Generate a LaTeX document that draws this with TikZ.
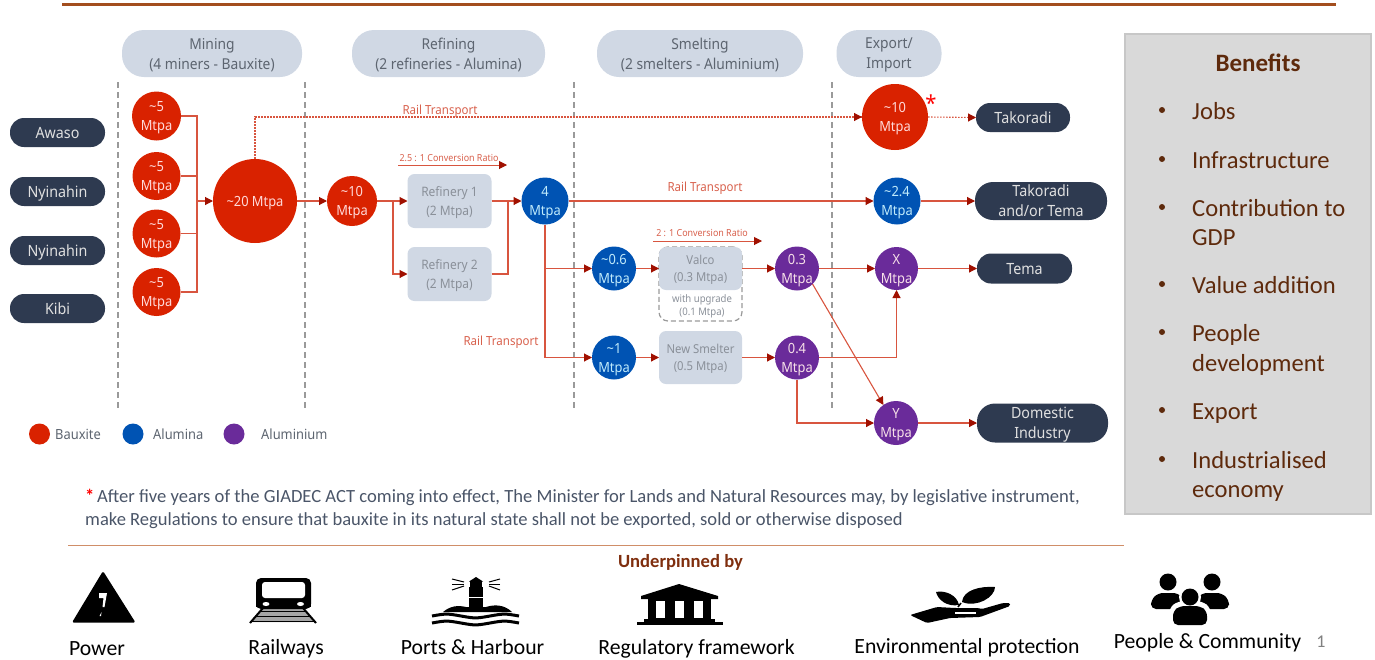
\documentclass[tikz,border=0pt]{standalone}
\usepackage{fontspec}
\setmainfont{Noto Sans}[FakeStretch=0.92]
\newfontfamily\calb{Carlito}
\usetikzlibrary{arrows.meta,calc}
\definecolor{linec}{HTML}{D8553F}
\definecolor{tipc}{HTML}{A01000}
\definecolor{redc}{HTML}{D92200}
\definecolor{bluec}{HTML}{0053B3}
\definecolor{purc}{HTML}{6A2B9A}
\definecolor{pillc}{HTML}{2E3A50}
\definecolor{headc}{HTML}{D0D8E4}
\definecolor{headt}{HTML}{5D6570}
\definecolor{boxt}{HTML}{8A9099}
\definecolor{railt}{HTML}{D8604C}
\definecolor{brownc}{HTML}{5E2A0C}
\definecolor{noteC}{HTML}{4A5568}
\definecolor{dashc}{HTML}{9A9A9A}
\definecolor{topr}{HTML}{A34E1E}
\definecolor{lowr}{HTML}{D08E68}
\definecolor{undc}{HTML}{7F2E0E}
\newcommand{\fs}[2]{\fontsize{#1}{#2}\selectfont}
\newcommand{\tl}{\textasciitilde}
\tikzset{
 circ/.style={circle,inner sep=0pt,outer sep=0pt,align=center,text depth=0pt,font=\fs{14}{19}},
 rc/.style={circ,fill=redc,text=red!15!white},
 bc/.style={circ,fill=bluec,text=cyan!25!white},
 pc/.style={circ,fill=purc,text=purple!12!white},
 pill/.style={fill=pillc,text=white!88!black,rounded corners=14pt,align=center,inner sep=0pt,outer sep=0pt,text depth=0pt,font=\fs{15.5}{20}},
 headb/.style={fill=headc,text=headt,rounded corners=22pt,align=center,inner sep=0pt,outer sep=0pt,text depth=0pt,font=\fs{15}{20}},
 plant/.style={fill=headc,text=boxt,rounded corners=7pt,align=center,inner sep=0pt,outer sep=0pt,minimum width=84pt,text depth=0pt,font=\fs{13}{19}},
 ln/.style={draw=linec,line width=1.1pt},
 arr/.style={ln,-{Triangle[length=8pt,width=8pt,color=tipc,fill=tipc]}},
 dot/.style={ln,dash pattern=on 1.6pt off 1.4pt},
 sep/.style={draw=dashc,line width=1.2pt,dash pattern=on 6pt off 4pt},
 lab/.style={text=railt,inner sep=0pt,font=\fs{12.5}{14}},
 ben/.style={anchor=base west,inner sep=0pt,text=brownc,font=\calb\fs{24.6}{25}},
 bul/.style={circle,fill=brownc,minimum size=6pt,inner sep=0pt},
 lbl/.style={anchor=base,text=black,inner sep=0pt,font=\calb\fs{21.7}{24}},
 leg/.style={text=headt,inner sep=0pt,font=\fs{14}{15}},
}
\begin{document}
\begin{tikzpicture}[x=1pt,y=-1pt]
\useasboundingbox (0,0) rectangle (1375,659);
% rules
\coordinate (r1a) at (62,4); \coordinate (r1b) at (1336,4);
\draw[line width=3pt,draw=topr] (r1a) -- (r1b);
\coordinate (r2a) at (68,545.5); \coordinate (r2b) at (1124,545.5);
\draw[line width=1.6pt,draw=lowr] (r2a) -- (r2b);
% header
\node[headb,minimum width=180pt,minimum height=47pt] (hm) at (212,53.5) {Mining\\(4 miners - Bauxite)};
\node[headb,minimum width=193pt,minimum height=47pt] (hr) at (448.5,53.5) {Refining\\(2 refineries - Alumina)};
\node[headb,minimum width=206pt,minimum height=47pt] (hs) at (700,53.5) {Smelting\\(2 smelters - Aluminium)};
\node[headb,minimum width=105pt,minimum height=47pt] (he) at (889,53.5) {Export/\\Import};
% separators
\foreach \x/\n in {118/a,305/b,574/c,832/d}{
 \coordinate (s\n t) at (\x,82); \coordinate (s\n b) at (\x,410);
 \draw[sep] (s\n t) -- (s\n b);
}
% pills
\node[pill,minimum width=95pt,minimum height=29pt] (awaso) at (57.5,132.5) {Awaso};
\node[pill,minimum width=95pt,minimum height=29pt] (ny1) at (57.5,191.5) {Nyinahin};
\node[pill,minimum width=95pt,minimum height=29pt] (ny2) at (57.5,250.5) {Nyinahin};
\node[pill,minimum width=95pt,minimum height=29pt] (kibi) at (57.5,308.5) {Kibi};
% mining
\node[rc,minimum size=49pt] (m1) at (156.5,116) {\tl5\\Mtpa};
\node[rc,minimum size=48pt] (m2) at (156.5,176) {\tl5\\Mtpa};
\node[rc,minimum size=48pt] (m3) at (156.5,233.5) {\tl5\\Mtpa};
\node[rc,minimum size=48pt] (m4) at (156.5,292) {\tl5\\Mtpa};
\node[rc,minimum size=84pt] (big) at (255,201) {\tl20 Mtpa};
\coordinate (jm) at (197,201);
\draw[ln] (m1.east) -| (jm);
\draw[ln] (m4.east) -| (jm);
\draw[ln] (m2.east) -| (jm);
\draw[ln] (m3.east) -| (jm);
\draw[arr] (jm) -- (big.west);
% refining
\node[rc,minimum size=50pt] (t10) at (352,201) {\tl10\\Mtpa};
\draw[arr] (big.east) -- (t10.west);
\node[plant,minimum height=54pt] (r1) at (449.5,201) {Refinery 1\\(2 Mtpa)};
\node[plant,minimum height=54pt] (r2) at (449.5,274) {Refinery 2\\(2 Mtpa)};
\node[bc,minimum size=47pt] (al4) at (545,201) {4\\Mtpa};
\draw[arr] (t10.east) -- (r1.west);
\coordinate (jr) at (393,201);
\draw[arr] (jr) |- (r2.west);
\coordinate (jq) at (508,201);
\draw[ln] (r1.east) -- (jq);
\draw[ln] (r2.east) -| (jq);
\draw[arr] (jq) -- (al4.west);
\coordinate (c1a) at (398,165); \coordinate (c1b) at (507,165);
\draw[arr,line width=1pt] (c1a) -- (c1b);
\node[lab,font=\fs{9.7}{12}] (c1t) at (449,157.5) {2.5 : 1 Conversion Ratio};
% export
\node[rc,minimum size=66pt] (ex) at (895,117) {\tl10\\Mtpa};
\node[text=red,inner sep=0pt,font=\bfseries\fs{22}{22}] (st) at (931,103.5) {*};
\node[pill,minimum width=94pt,minimum height=29pt] (tak) at (1023,117.5) {Takoradi};
\coordinate (rt) at (255,117);
\coordinate (ea) at (854,117);
\coordinate (eb) at (967,117.5);
\draw[dot] (big.north) -- (rt) -- (ex.west);
\draw[arr] (ea) -- (ex.west);
\draw[dot] (ex.east) -- (tak.west);
\draw[arr] (eb) -- (tak.west);
\node[lab] (rl1) at (440,111) {Rail Transport};
\node[bc,minimum size=47pt] (a24) at (897,201) {\tl2.4\\Mtpa};
\node[pill,minimum width=132pt,minimum height=38pt,rounded corners=18pt] (tt) at (1041,201) {Takoradi\\and/or Tema};
\draw[arr] (al4.east) -- (a24.west);
\draw[arr] (a24.east) -- (tt.west);
\node[lab] (rl2) at (705,188) {Rail Transport};
% smelting
\node[draw=dashc,line width=1.2pt,dash pattern=on 5pt off 3pt,rounded corners=9pt,minimum width=83pt,minimum height=74pt,inner sep=0pt,outer sep=0pt] (vu) at (700.5,284) {};
\node[text=boxt,inner sep=0pt,align=center,font=\fs{10.4}{13}] (vt) at (702,306) {with upgrade\\(0.1 Mtpa)};
\node[plant,minimum height=43pt,minimum width=83pt,font=\fs{12.3}{17}] (valco) at (700.5,268.5) {Valco\\(0.3 Mtpa)};
\node[plant,minimum height=53pt,minimum width=83pt,font=\fs{12.3}{17}] (ns) at (700.5,357.5) {New Smelter\\(0.5 Mtpa)};
\node[bc,minimum size=44pt] (a06) at (614,268.5) {\tl0.6\\Mtpa};
\node[bc,minimum size=44pt] (a1) at (614,357.5) {\tl1\\Mtpa};
\node[pc,minimum size=44pt] (p03) at (797,268.5) {0.3\\Mtpa};
\node[pc,minimum size=44pt] (p04) at (797,357.5) {0.4\\Mtpa};
\node[pc,minimum size=43pt] (px) at (896.5,268.5) {X\\Mtpa};
\node[pc,minimum size=44pt] (py) at (896,423) {Y\\Mtpa};
\node[pill,minimum width=95pt,minimum height=30pt] (tema) at (1024.5,268.5) {Tema};
\node[pill,minimum width=131pt,minimum height=39pt,rounded corners=18pt] (dom) at (1042.5,423) {Domestic\\Industry};
\draw[arr] (al4.south) |- (a06.west);
\draw[arr] (al4.south) |- (a1.west);
\draw[arr] (a06.east) -- (valco.west);
\draw[arr] (valco.east) -- (p03.west);
\draw[arr] (a1.east) -- (ns.west);
\draw[arr] (ns.east) -- (p04.west);
\draw[arr] (p03.east) -- (px.west);
\draw[arr] (px.east) -- (tema.west);
\draw[arr] (p04.east) -| (px.south);
\draw[arr] (p04.south) |- (py.west);
\draw[arr] (p03.-45) -- (py.125);
\draw[arr] (py.east) -- (dom.west);
\coordinate (c2a) at (653,241); \coordinate (c2b) at (762,241);
\draw[arr,line width=1pt] (c2a) -- (c2b);
\node[lab,font=\fs{9.7}{12}] (c2t) at (702,233) {2 : 1 Conversion Ratio};
\node[lab] (rl3) at (501,342) {Rail Transport};
% legend
\node[circle,fill=redc,minimum size=21pt,inner sep=0pt] (lg1) at (39.5,434) {};
\node[circle,fill=bluec,minimum size=21pt,inner sep=0pt] (lg2) at (133,434) {};
\node[circle,fill=purc,minimum size=21pt,inner sep=0pt] (lg3) at (234,434) {};
\node[leg,anchor=west] (lt1) at (55,434) {Bauxite};
\node[leg,anchor=west] (lt2) at (153,434) {Alumina};
\node[leg,anchor=west] (lt3) at (261,434) {Aluminium};
% benefits
\node[draw=black!22,fill=black!15,line width=1.5pt,minimum width=246pt,minimum height=480pt,inner sep=0pt] (bb) at (1248,274) {};
\node[text=brownc,inner sep=0pt,font=\calb\bfseries\fs{25}{25}] (bt) at (1258,63) {Benefits};
\foreach \y/\t/\n in {119/Jobs/a,168/Infrastructure/b,216/Contribution to/c,293/Value addition/e,341/People/f,419/Export/h,468/Industrialised/i}{
 \node[bul] (b\n) at (1162,\y-9) {};
 \node[ben] (t\n) at (1192,\y) {\t};
}
\node[ben] (tc2) at (1192,245) {GDP};
\node[ben] (tf2) at (1192,371) {development};
\node[ben] (ti2) at (1192,497) {economy};
% note
\node[anchor=base west,inner sep=0pt,font=\calb\fs{18.6}{23},text=noteC] (n1) at (85,502) {{\color{red}\textbf{*}}\hspace{-1.5pt} After five years of the GIADEC ACT coming into effect, The Minister for Lands and Natural Resources may, by legislative instrument,};
\node[anchor=base west,inner sep=0pt,font=\calb\fs{18.55}{23},text=noteC] (n2) at (85,525) {make Regulations to ensure that bauxite in its natural state shall not be exported, sold or otherwise disposed};
\node[text=undc,inner sep=0pt,font=\calb\bfseries\fs{18.6}{20}] (up) at (680.5,562) {Underpinned by};
% labels
\node[lbl] (l1) at (97,655) {Power};
\node[lbl] (l2) at (286,654) {Railways};
\node[lbl] (l3) at (472.5,654) {Ports \& Harbour};
\node[lbl] (l4) at (696.5,654) {Regulatory framework};
\node[lbl] (l5) at (967,653) {Environmental protection};
\node[lbl] (l6) at (1207.5,648) {People \& Community};
\node[text=black!50,inner sep=0pt,font=\calb\fs{18}{20}] (l7) at (1321,642) {1};
% power icon
\fill[black,rounded corners=1.5pt] (103,571) -- (135.5,622.5) -- (72,622.5) -- cycle;
\fill[white] (99,593) -- (107,593) -- (104.5,607) -- (102.5,607) -- (103.5,598) -- (99,598) -- cycle;
\fill[white] (99.5,616) -- (101.5,612) -- (101,616) -- cycle;
% train icon
\fill[black!35] (263,607) -- (302,607) -- (315,622) -- (250,622) -- cycle;
\fill[black,rounded corners=5pt] (256,578) rectangle (311,609);
\fill[black] (256,600) rectangle (311,607);
\fill[white,rounded corners=3pt] (262,582) rectangle (305,598);
\fill[white] (266,604) ellipse (3.5 and 2);
\fill[white] (300.5,604) ellipse (3.5 and 2);
\draw[black,line width=2pt] (263,608) -- (250,623);
\draw[black,line width=2pt] (303,608) -- (316,623);
\draw[black,line width=1.3pt] (260,611.5) -- (306,611.5);
\draw[black,line width=1.3pt] (256,616.5) -- (310,616.5);
\draw[black,line width=1.3pt] (252,621.5) -- (314,621.5);
% lighthouse icon
\fill[black] (469,587) rectangle (483,608);
\fill[black] (470,581) rectangle (482,587);
\fill[black] (476,577) -- (483,581.5) -- (469,581.5) -- cycle;
\fill[white] (469,596.5) rectangle (483,598);
\foreach \a/\b in {579/582,584/584,590/586}{
 \coordinate (ba) at (452,\a); \coordinate (bb2) at (464,\b);
 \draw[black,line width=1pt] (ba) -- (bb2);
 \coordinate (bc2) at (500,\a); \coordinate (bd) at (489,\b);
 \draw[black,line width=1pt] (bc2) -- (bd);
}
\fill[black] (443,612) .. controls (450,606) and (458,605) .. (466,607) -- (486,607) .. controls (495,604) and (505,605) .. (512,612) -- cycle;
\foreach \y in {616,623}{
 \coordinate (wa) at (432,\y);
 \draw[black,line width=3pt] (wa) .. controls ++(14,-2.5) and ++(-14,-2.5) .. ++(29,0) .. controls ++(14,2.5) and ++(-14,2.5) .. ++(29,0) .. controls ++(14,-2.5) and ++(-14,-2.5) .. ++(29,0);
}
% temple icon
\fill[black] (679,584) -- (718,596) -- (718,599) -- (641,599) -- (641,596) -- cycle;
\fill[black] (648,599) rectangle (711,619);
\fill[white] (656,601) rectangle (665,618);
\fill[white] (675,601) rectangle (684,618);
\fill[white] (694,601) rectangle (703,618);
\fill[black] (644,619) rectangle (715,622);
\fill[black] (637,622) rectangle (723,625);
% hand icon
\fill[black,rounded corners=1.5pt] (910,615) -- (937,607) -- (955,608) -- (978,608) -- (982,609) -- (1003,603) -- (1010,603) -- (1010,606) -- (980,617) -- (950,618) -- (927,623) -- cycle;
\fill[white] (955,612) rectangle (976,613.5);
\fill[black] (959,605) .. controls (957,595) and (945,590) .. (936,592) .. controls (938,600) and (947,607) .. (959,605) -- cycle;
\fill[black] (962,602) .. controls (963,590) and (980,586) .. (995,587) .. controls (995,597) and (977,608) .. (962,602) -- cycle;
\draw[black,line width=1.5pt] (958,607) -- (961,603);
% people icon
\fill[black] (1168,582) circle (8.5);
\fill[black] (1212,582) circle (8.5);
\fill[black,rounded corners=5pt] (1151,609) -- (1151,600) -- (1158,593) -- (1178,593) -- (1185,600) -- (1185,609) -- cycle;
\fill[black,rounded corners=5pt] (1195,609) -- (1195,600) -- (1202,593) -- (1222,593) -- (1229,600) -- (1229,609) -- cycle;
\fill[white] (1190,597) circle (11);
\fill[white,rounded corners=6pt] (1169,626) -- (1169,608) -- (1178,601) -- (1202,601) -- (1211,608) -- (1211,626) -- cycle;
\fill[black] (1190,597) circle (8.5);
\fill[black,rounded corners=5pt] (1173,625) -- (1173,611) -- (1180,606) -- (1200,606) -- (1207,611) -- (1207,625) -- cycle;
\end{tikzpicture}
\end{document}
